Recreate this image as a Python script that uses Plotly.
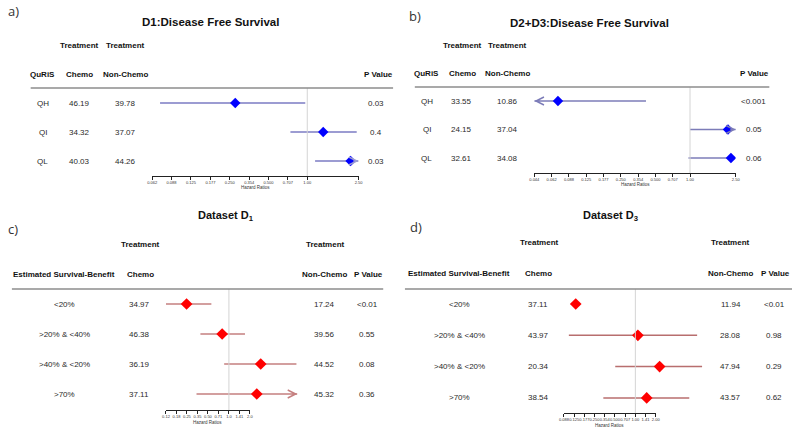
import math
import plotly.graph_objects as go

W, H = 800, 431

# ---------------- data ----------------
a_groups = ["QH", "QI", "QL"]
a_chemo = ["46.19", "34.32", "40.03"]
a_nonchemo = ["39.78", "37.07", "44.26"]
a_pvalue = ["0.03", "0.4", "0.03"]
a_hr = [0.276, 1.33, 2.17]
a_lower = [0.072, 0.74, 1.15]
a_upper = [0.965, 2.42, 3.2]
a_ticks = [0.0625, 0.0884, 0.125, 0.177, 0.25, 0.354, 0.5, 0.707, 1.0, 2.5]
a_ticktext = ["0.062", "0.088", "0.125", "0.177", "0.250", "0.354", "0.500", "0.707", "1.00", "2.50"]

b_groups = ["QH", "QI", "QL"]
b_chemo = ["33.55", "24.15", "32.61"]
b_nonchemo = ["10.86", "37.04", "34.08"]
b_pvalue = ["<0.001", "0.05", "0.06"]
b_hr = [0.071, 2.14, 2.27]
b_lower = [0.03, 1.0, 0.97]
b_upper = [0.414, 3.2, 2.45]
b_ticks = [0.0442, 0.0625, 0.0884, 0.125, 0.177, 0.25, 0.354, 0.5, 0.707, 1.0, 2.5]
b_ticktext = ["0.044", "0.062", "0.088", "0.125", "0.177", "0.250", "0.354", "0.500", "0.707", "1.00", "2.50"]

c_groups = ["<20%", ">20% & <40%", ">40% & <20%", ">70%"]
c_chemo = ["34.97", "46.38", "36.19", "37.11"]
c_nonchemo = ["17.24", "39.56", "44.52", "45.32"]
c_pvalue = ["<0.01", "0.55", "0.08", "0.36"]
c_hr = [0.247, 0.80, 2.86, 2.51]
c_lower = [0.125, 0.39, 0.855, 0.343]
c_upper = [0.56, 1.70, 9.3, 15.0]
c_ticks = [0.125, 0.177, 0.25, 0.354, 0.5, 0.707, 1.0, 1.41, 2.0]
c_ticktext = ["0.12", "0.18", "0.25", "0.35", "0.50", "0.71", "1.0", "1.41", "2.0"]

d_groups = ["<20%", ">20% & <40%", ">40% & <20%", ">70%"]
d_chemo = ["37.11", "43.97", "20.34", "38.54"]
d_nonchemo = ["11.94", "28.08", "47.94", "43.57"]
d_pvalue = ["<0.01", "0.98", "0.29", "0.62"]
d_hr = [0.132, 1.09, 2.28, 1.47]
d_lower = [0.127, 0.1045, 0.505, 0.337]
d_upper = [0.137, 8.15, 9.64, 6.24]
d_ticks = [0.0884, 0.125, 0.177, 0.25, 0.354, 0.5, 0.707, 1.0, 1.41, 2.0]
d_ticktext = ["0.088", "0.125", "0.177", "0.250", "0.354", "0.500", "0.707", "1.00", "1.41", "2.00"]

# ---------------- layout helpers ----------------
FONT = "Liberation Sans, Arial, sans-serif"
CELL = "#2a2a2a"
HEAD = "#111111"


def fx(px):
    return px / W


def fy(py):
    return 1 - py / H


panels = [
    dict(label="a)", label_xy=(9, 11), title="<b>D1:Disease Free Survival</b>", title_xy=(208, 22), title_size=11.5,
         groups=a_groups, chemo=a_chemo, nonchemo=a_nonchemo, pvalue=a_pvalue,
         hr=a_hr, lower=a_lower, upper=a_upper, ticks=a_ticks, ticktext=a_ticktext,
         clip=(0.0625, 2.5),
         treat_hdr=[(75, 46), (122, 46)],
         col_hdr=[("QuRiS", 38), ("Chemo", 75), ("Non-Chemo", 122), ("P Value", 378)], hdr_y=75,
         col_x=dict(group=38, chemo=75, nonchemo=122, p=376),
         line_y=88, line_x=(26, 393), row0=103, spacing=29, axis_y=176, tick_px=(149, 358),
         line_color="#9c9cd2", line_w=2, mk_color="#0000ff", mk_size=8, hr_y=187),
    dict(label="b)", label_xy=(415, 16), title="<b>D2+D3:Disease Free Survival</b>", title_xy=(592, 23), title_size=11.5,
         groups=b_groups, chemo=b_chemo, nonchemo=b_nonchemo, pvalue=b_pvalue,
         hr=b_hr, lower=b_lower, upper=b_upper, ticks=b_ticks, ticktext=b_ticktext,
         clip=(0.0442, 2.5),
         treat_hdr=[(463, 46), (509, 46)],
         col_hdr=[("QuRiS", 427), ("Chemo", 463), ("Non-Chemo", 509), ("P Value", 759)], hdr_y=73,
         col_x=dict(group=427, chemo=462, nonchemo=509, p=758),
         line_y=87, line_x=(415, 774), row0=101, spacing=28.5, axis_y=173, tick_px=(536, 740),
         line_color="#7c7cb8", line_w=1.5, mk_color="#0000ff", mk_size=8, hr_y=184),
    dict(label="c)", label_xy=(8, 229), title="<b>Dataset D<sub>1</sub></b>", title_xy=(224, 216), title_size=11,
         groups=c_groups, chemo=c_chemo, nonchemo=c_nonchemo, pvalue=c_pvalue,
         hr=c_hr, lower=c_lower, upper=c_upper, ticks=c_ticks, ticktext=c_ticktext,
         clip=(0.12, 9.6),
         treat_hdr=[(137, 244), (325, 244)],
         col_hdr=[("Estimated Survival-Benefit", 60), ("Chemo", 137), ("Non-Chemo", 324), ("P Value", 368)], hdr_y=274,
         col_x=dict(group=60, chemo=136, nonchemo=324, p=367),
         line_y=289, line_x=(7, 383), row0=304, spacing=30, axis_y=410, tick_px=(163, 248),
         line_color="#c47f7f", line_w=1.5, mk_color="#ff0000", mk_size=9, hr_y=422),
    dict(label="d)", label_xy=(416, 227), title="<b>Dataset D<sub>3</sub></b>", title_xy=(613, 216), title_size=11,
         groups=d_groups, chemo=d_chemo, nonchemo=d_nonchemo, pvalue=d_pvalue,
         hr=d_hr, lower=d_lower, upper=d_upper, ticks=d_ticks, ticktext=d_ticktext,
         clip=(0.08, 11.0),
         treat_hdr=[(541, 242), (735, 242)],
         col_hdr=[("Estimated Survival-Benefit", 460), ("Chemo", 540), ("Non-Chemo", 735), ("P Value", 780)], hdr_y=273,
         col_x=dict(group=460, chemo=540, nonchemo=735, p=779),
         line_y=289, line_x=(405, 797), row0=304, spacing=31.3, axis_y=413, tick_px=(566, 659),
         line_color="#b86e6e", line_w=1.5, mk_color="#ff0000", mk_size=9, hr_y=425),
]

fig = go.Figure()
layout = dict(
    width=W, height=H, margin=dict(l=0, r=0, t=0, b=0),
    paper_bgcolor="white", plot_bgcolor="rgba(0,0,0,0)", showlegend=False,
    font=dict(family=FONT, color=CELL, size=8),
)
annotations = []
shapes = []

for k, P in enumerate(panels, start=1):
    n = len(P["groups"])
    rows = list(range(1, n + 1))
    tmin, tmax = P["ticks"][0], P["ticks"][-1]
    t0, t1 = P["tick_px"]
    scale = (t1 - t0) / (math.log10(tmax) - math.log10(tmin))

    def px_of(v, t0=t0, tmin=tmin, scale=scale):
        return t0 + (math.log10(v) - math.log10(tmin)) * scale

    clo, chi = P["clip"]
    # data axis (invisible)
    layout[f"xaxis{k}"] = dict(type="log", domain=[fx(px_of(clo)), fx(px_of(chi))],
                               range=[math.log10(clo), math.log10(chi)], visible=False,
                               anchor=f"y{k}", fixedrange=True)
    # tick axis (visible)
    layout[f"xaxis{k + 4}"] = dict(type="log", domain=[fx(t0), fx(t1)],
                                   range=[math.log10(tmin), math.log10(tmax)],
                                   anchor="free", position=fy(P["axis_y"]),
                                   tickvals=P["ticks"], ticktext=P["ticktext"], tickangle=0,
                                   ticks="outside", ticklen=2.5, tickwidth=1, tickcolor="#222",
                                   showline=True, linecolor="#222", linewidth=1,
                                   showgrid=False, zeroline=False,
                                   tickfont=dict(size=4, color="#333", family=FONT), fixedrange=True)
    top_val = 1 - (P["row0"] - P["line_y"]) / P["spacing"]
    bot_val = top_val + (P["axis_y"] - P["line_y"]) / P["spacing"]
    layout[f"yaxis{k}"] = dict(domain=[fy(P["axis_y"]), fy(P["line_y"])], range=[bot_val, top_val],
                               visible=False, anchor=f"x{k}", fixedrange=True)

    # CI lines (clipped to plotting limits)
    xs, ys = [], []
    for r, lo, hi in zip(rows, P["lower"], P["upper"]):
        xs += [max(lo, clo), min(hi, chi), None]
        ys += [r, r, None]
    fig.add_trace(go.Scatter(x=xs, y=ys, mode="lines", xaxis=f"x{k}", yaxis=f"y{k}",
                             line=dict(color=P["line_color"], width=P["line_w"]),
                             hoverinfo="skip"))
    fig.add_trace(go.Scatter(x=P["hr"], y=rows, mode="markers", xaxis=f"x{k}", yaxis=f"y{k}",
                             marker=dict(symbol="diamond", size=P["mk_size"], color=P["mk_color"]),
                             hoverinfo="skip"))
    # invisible trace so the tick axis is rendered
    fig.add_trace(go.Scatter(x=[1.0], y=[rows[0]], mode="markers", xaxis=f"x{k + 4}", yaxis=f"y{k}",
                             marker=dict(opacity=0), hoverinfo="skip"))

    # arrows for CIs beyond the plotting limits
    for r, lo, hi in zip(rows, P["lower"], P["upper"]):
        if hi > chi:
            annotations.append(dict(x=math.log10(chi), y=r, xref=f"x{k}", yref=f"y{k}", text="",
                                    showarrow=True, ax=-7, ay=0, arrowhead=5, arrowsize=1.3,
                                    arrowwidth=1.2, arrowcolor=P["line_color"]))
        if lo < clo:
            annotations.append(dict(x=math.log10(clo), y=r, xref=f"x{k}", yref=f"y{k}", text="",
                                    showarrow=True, ax=7, ay=0, arrowhead=5, arrowsize=1.3,
                                    arrowwidth=1.2, arrowcolor=P["line_color"]))

    # reference line at HR = 1
    shapes.append(dict(type="line", xref=f"x{k}", yref="paper", x0=1, x1=1,
                       y0=fy(P["axis_y"]), y1=fy(P["line_y"]),
                       line=dict(color="#d4d4d4", width=1)))
    # header rule
    shapes.append(dict(type="line", xref="paper", yref="paper",
                       x0=fx(P["line_x"][0]), x1=fx(P["line_x"][1]),
                       y0=fy(P["line_y"]), y1=fy(P["line_y"]),
                       line=dict(color="#8c8c8c", width=1.5)))

    # panel label and title
    annotations.append(dict(x=fx(P["label_xy"][0]), y=fy(P["label_xy"][1]), xref="paper", yref="paper",
                            text=P["label"], showarrow=False, xanchor="center", yanchor="middle",
                            font=dict(size=13, color="#333", family="Open Sans, Liberation Sans, sans-serif")))
    annotations.append(dict(x=fx(P["title_xy"][0]), y=fy(P["title_xy"][1]), xref="paper", yref="paper",
                            text=P["title"], showarrow=False, xanchor="center", yanchor="middle",
                            font=dict(size=P["title_size"], color=HEAD, family=FONT)))
    for (xp, yp) in P["treat_hdr"]:
        annotations.append(dict(x=fx(xp), y=fy(yp), xref="paper", yref="paper", text="<b>Treatment</b>",
                                showarrow=False, xanchor="center", yanchor="middle",
                                font=dict(size=8, color=HEAD, family=FONT)))
    for (t, xp) in P["col_hdr"]:
        annotations.append(dict(x=fx(xp), y=fy(P["hdr_y"]), xref="paper", yref="paper", text=f"<b>{t}</b>",
                                showarrow=False, xanchor="center", yanchor="middle",
                                font=dict(size=8, color=HEAD, family=FONT)))
    # table cells
    cx = P["col_x"]
    for r, g, c, nc, p in zip(rows, P["groups"], P["chemo"], P["nonchemo"], P["pvalue"]):
        for val, key in ((g, "group"), (c, "chemo"), (nc, "nonchemo"), (p, "p")):
            annotations.append(dict(x=fx(cx[key]), y=r, xref="paper", yref=f"y{k}", text=val,
                                    showarrow=False, xanchor="center", yanchor="middle",
                                    font=dict(size=8, color=CELL, family=FONT)))
    # axis title
    annotations.append(dict(x=fx((t0 + t1) / 2), y=fy(P["hr_y"]), xref="paper", yref="paper",
                            text="Hazard Ratios", showarrow=False, xanchor="center", yanchor="middle",
                            font=dict(size=4.5, color="#333", family=FONT)))

layout["annotations"] = annotations
layout["shapes"] = shapes
fig.update_layout(**layout)
fig.write_html("out.html", config={"displayModeBar": False},
               post_script="document.body.style.margin='0px';document.body.style.overflow='hidden';")
